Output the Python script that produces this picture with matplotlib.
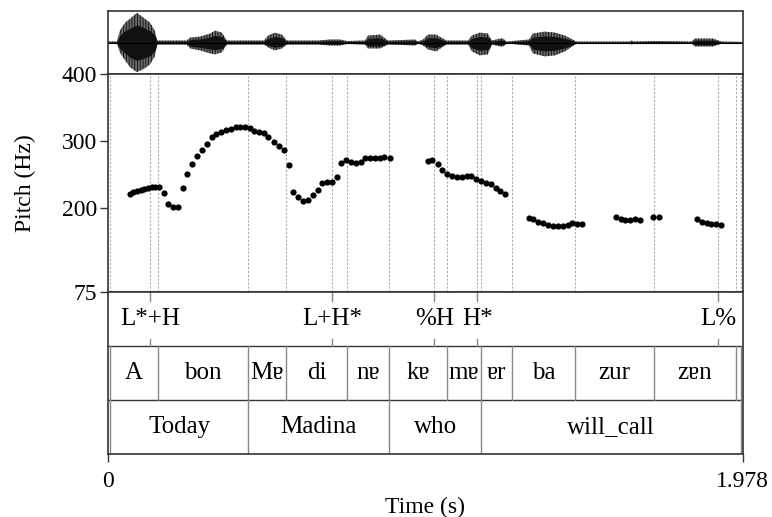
import numpy as np
import matplotlib
matplotlib.use("Agg")
import matplotlib.pyplot as plt

plt.rcParams['font.family'] = ['Liberation Serif', 'DejaVu Serif']
plt.rcParams['font.size'] = 17
plt.rcParams['hatch.linewidth'] = 0.7

t_end = 1.978

# pitch track (s, Hz)
pitch_t = [0.069, 0.079, 0.090, 0.102, 0.113, 0.125, 0.136, 0.147, 0.159, 0.174,
           0.187, 0.202, 0.217, 0.233, 0.247, 0.262, 0.277, 0.293, 0.308, 0.323,
           0.338, 0.352, 0.367, 0.382, 0.398, 0.412, 0.427, 0.442, 0.456, 0.471,
           0.485, 0.500, 0.517, 0.533, 0.549, 0.563, 0.577, 0.593, 0.608, 0.622,
           0.638, 0.653, 0.668, 0.683, 0.697, 0.713, 0.727, 0.742, 0.757, 0.772,
           0.787, 0.802, 0.817, 0.831, 0.847, 0.861, 0.878,
           0.996, 1.011, 1.027, 1.042, 1.057, 1.072, 1.088, 1.103, 1.118, 1.132,
           1.148, 1.163, 1.178, 1.193, 1.208, 1.223, 1.238,
           1.312, 1.325, 1.341, 1.356, 1.371, 1.386, 1.401, 1.417, 1.433, 1.447,
           1.463, 1.478,
           1.583, 1.598, 1.612, 1.628, 1.643, 1.658,
           1.699, 1.716,
           1.836, 1.851, 1.866, 1.880, 1.895, 1.910]
pitch_hz = [220.9, 223.4, 225.3, 226.8, 228.3, 229.4, 230.9, 231.8, 230.9, 222.3,
            205.5, 201.9, 201.9, 229.8, 250.3, 265.6, 278.0, 286.5, 296.0, 305.5,
            310.0, 313.0, 316.0, 317.9, 321.3, 321.3, 320.9, 319.4, 315.4, 313.0,
            311.6, 305.5, 298.0, 293.0, 286.1, 263.9, 224.3, 215.9, 210.7, 211.6,
            219.4, 226.8, 237.0, 239.2, 239.1, 245.9, 266.4, 270.9, 268.9, 267.1,
            268.2, 275.3, 274.9, 274.3, 275.0, 276.5, 274.0,
            270.6, 271.6, 265.6, 256.2, 251.2, 247.3, 246.2, 246.2, 248.2, 247.7,
            243.7, 240.7, 237.7, 235.3, 229.4, 224.9, 220.9,
            185.0, 184.0, 179.5, 177.6, 175.0, 173.1, 172.6, 173.5, 175.0, 177.6,
            175.6, 175.6,
            186.5, 183.5, 182.0, 182.0, 183.1, 182.0,
            186.1, 186.5,
            183.5, 179.5, 177.6, 176.1, 175.6, 174.6]

# waveform envelope (s, upper / lower amplitude, relative)
wave_t = [0.0, 0.028, 0.037, 0.053, 0.069, 0.090, 0.115, 0.131, 0.146, 0.153,
          0.245, 0.256, 0.287, 0.318, 0.333, 0.355, 0.370,
          0.486, 0.499, 0.520, 0.542, 0.557,
          0.654, 0.692, 0.723, 0.744,
          0.801, 0.810, 0.848, 0.873,
          0.957, 0.966, 0.982, 0.997, 1.022, 1.055,
          1.122, 1.134, 1.159, 1.184, 1.196, 1.222, 1.231, 1.242,
          1.312, 1.324, 1.361, 1.393, 1.424, 1.460,
          1.626, 1.632, 1.638, 1.705,
          1.819, 1.829, 1.885, 1.912, 1.978]
wave_up = [1, 1, 12, 20, 24, 30, 24, 20, 12, 2,
           2, 5, 6, 9, 12, 10, 2,
           2, 7, 10, 8, 2,
           2, 3, 3, 1.5,
           2, 7, 8, 2,
           3, 1, 3, 8, 8, 2,
           2, 7, 10, 9, 2, 4, 4, 1,
           3, 9, 11, 10, 7, 1,
           1, 2, 1, 1.5,
           1, 4, 4, 1, 0.6]
wave_dn = [1, 1, 10, 18, 25, 30, 26, 22, 14, 2,
           2, 6, 8, 11, 12, 10, 2,
           2, 5, 8, 6, 2,
           2, 3, 3, 1.5,
           2, 6, 6, 2,
           3, 1, 3, 7, 9, 2,
           2, 9, 13, 12, 2, 4, 4, 1,
           3, 11, 14, 13, 9, 1,
           1, 2, 1, 1.5,
           1, 4, 4, 1, 0.6]

# annotation tiers
tone_t = [0.132, 0.699, 1.017, 1.151, 1.902]
tone_lab = ["L*+H", "L+H*", "%H", "H*", "L%"]

syl_bounds = [0.0, 0.006, 0.156, 0.437, 0.555, 0.746, 0.877, 1.055, 1.163,
              1.259, 1.455, 1.702, 1.957, 1.972, 1.978]
syl_lab = ["", "A", "bon", "Mɐ", "di", "nɐ", "kɐ", "mɐ", "ɐr", "ba", "zur",
           "zɐn", "", ""]

word_bounds = [0.0, 0.006, 0.437, 0.877, 1.163, 1.972, 1.978]
word_lab = ["", "Today", "Madina", "who", "will_call", ""]

W, H = 772, 517
fig = plt.figure(figsize=(W / 100, H / 100), dpi=100)
x0, x1 = 108, 742.7


def box(top, bot):
    return [x0 / W, 1 - bot / H, (x1 - x0) / W, (bot - top) / H]


frame_c = "#333333"
grid_c = "#aaaaaa"
line_c = "#888888"

# waveform
axw = fig.add_axes(box(11, 74))
wt = np.array(wave_t)
up = np.array(wave_up) / 31.5
dn = np.array(wave_dn) / 31.5
axw.fill_between(wt, -dn, up, facecolor="#6a6a6a", edgecolor="#1a1a1a",
                 hatch="||||||", lw=0)
axw.fill_between(wt, -dn * 0.6, up * 0.6, color="#111111", lw=0)
axw.plot([0, t_end], [0, 0], color="black", lw=0.8)
axw.set_xlim(0, t_end)
axw.set_ylim(-1.01, 1.01)
axw.set_xticks([])
axw.set_yticks([])
for s in axw.spines.values():
    s.set_color(frame_c)
    s.set_linewidth(1.2)

# pitch
axp = fig.add_axes(box(74, 291.7))
all_b = sorted(set(syl_bounds[1:-1] + tone_t))
for b in all_b:
    axp.axvline(b, color=grid_c, lw=0.8, ls=(0, (2, 1.5)), zorder=1)
axp.scatter(pitch_t, pitch_hz, s=20, color="black", zorder=3, linewidths=0)
axp.set_xlim(0, t_end)
axp.set_ylim(75, 400)
axp.set_yticks([75, 200, 300, 400])
axp.set_xticks([])
axp.tick_params(axis="y", direction="out", length=6, width=1, color=frame_c, pad=2)
axp.set_ylabel("Pitch (Hz)", labelpad=18)
for s in axp.spines.values():
    s.set_color(frame_c)
    s.set_linewidth(1.2)

# tiers
axt = fig.add_axes(box(291.7, 454))
axt.set_xlim(0, t_end)
axt.set_ylim(0, 3)
axt.axhline(1, color=frame_c, lw=1)
axt.axhline(2, color=frame_c, lw=1)

tier_fs = 18
for t, lab in zip(tone_t, tone_lab):
    axt.plot([t, t], [2.83, 3.0], color=line_c, lw=1)
    axt.plot([t, t], [2.0, 2.13], color=line_c, lw=1)
    axt.text(t, 2.5, lab, ha="center", va="center", fontsize=tier_fs)

for b in syl_bounds[1:-1]:
    axt.plot([b, b], [1, 2], color=line_c, lw=1)
for a, b, lab in zip(syl_bounds[:-1], syl_bounds[1:], syl_lab):
    if lab:
        axt.text((a + b) / 2, 1.5, lab, ha="center", va="center", fontsize=tier_fs)

for b in word_bounds[1:-1]:
    axt.plot([b, b], [0, 1], color=line_c, lw=1)
for a, b, lab in zip(word_bounds[:-1], word_bounds[1:], word_lab):
    if lab:
        axt.text((a + b) / 2, 0.5, lab, ha="center", va="center", fontsize=tier_fs)

axt.set_yticks([])
axt.set_xticks([0, t_end])
axt.set_xticklabels(["0", "1.978"])
axt.tick_params(axis="x", direction="out", length=6, width=1, color=frame_c, pad=6)
axt.set_xlabel("Time (s)", labelpad=4)
for s in axt.spines.values():
    s.set_color(frame_c)
    s.set_linewidth(1.2)

fig.savefig("out.png", dpi=100)
